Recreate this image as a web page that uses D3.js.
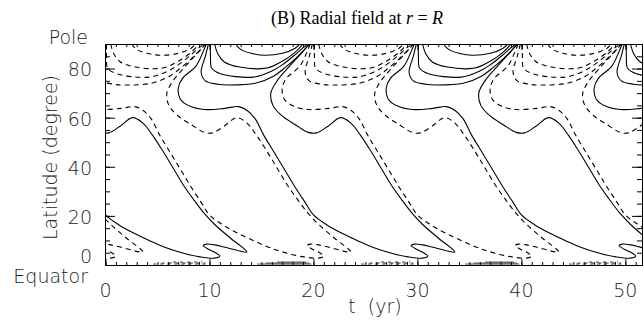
<!DOCTYPE html>
<html>
<head>
<meta charset="utf-8">
<script src="https://cdn.jsdelivr.net/npm/d3@7"></script>
<style>
  body { margin: 0; background: #fff; }
  svg { display: block; }
</style>
</head>
<body>
<div id="chart"></div>
<script>
// half cycles: start year and sign of the field (+1 drawn solid, -1 dashed)
const cycleStart = [-20, -10, 0, 10, 20, 30, 40, 50];
const cycleSign = [-1, 1, -1, 1, -1, 1, -1, 1];

// polar loops of one half cycle, [years after start, latitude]
const poleLoop1 = [[2.5, 90], [3.0, 87.8], [4.0, 86.2], [5.3, 85.4], [7.0, 86.2], [8.2, 88.2], [8.7, 90]];
const poleLoop2 = [[0.5, 90], [0.8, 86], [1.4, 82.8], [2.9, 80.6], [5.5, 80.2], [7.0, 83], [8.2, 86.5], [9.0, 90]];
const poleLoop3 = [[0.1, 90], [0.1, 84], [0.2, 80.2], [1.0, 78], [4.2, 76.5], [6.0, 79], [7.0, 81.5], [8.2, 85.5], [9.0, 88.5], [9.5, 90]];
const poleLoop4 = [[-0.1, 90], [-0.4, 85], [-0.8, 78.5], [-0.4, 75], [0.8, 73.6], [1.8, 73.3], [4.4, 74], [6.2, 77], [7.3, 80.5], [8.5, 85], [9.3, 88.5], [9.7, 90]];

// long contour: pole -> mid-latitude plateau -> equator wedge -> back up to the next pole
const mainContour = [
  [-0.3, 90], [-0.6, 87], [-1.3, 81], [-2.6, 76], [-3.0, 72], [-2.8, 67.5], [-1.8, 64.5], [-0.5, 63.3],
  [1.5, 63.8], [2.8, 64.5], [3.6, 63], [4.4, 59.5], [5.2, 53], [6.2, 46], [7.2, 39], [8.2, 32],
  [9.2, 25.5], [10.0, 20.4], [11.3, 16.3], [12.7, 13], [14.3, 9.8], [15.9, 6.9], [17.5, 4.8],
  [19.1, 3.3], [20.5, 2.8], [21.0, 3.6], [20.6, 5], [19.9, 6.4], [19.4, 7.9], [19.7, 8.5],
  [20.5, 8.2], [21.7, 7], [23.6, 5.3], [22.0, 11], [20.5, 16.5], [19.5, 21], [18.5, 26.5],
  [17.5, 32.5], [16.5, 39.5], [15.5, 46.5], [14.5, 53], [13.6, 57.8], [12.6, 60], [11.4, 56.5],
  [10.3, 53.8], [9.5, 54], [8.3, 57], [6.9, 61], [6.1, 65], [5.9, 70], [6.5, 75], [7.7, 81],
  [8.9, 86.5], [9.6, 90]
];

// crowded contours hugging the equator: [from, to, latitude]
const equatorBand = [[4.6, 9.8, 0.4], [5.4, 9.6, 0.8], [6.5, 9.3, 1.2]];

const xTicks = [0, 10, 20, 30, 40, 50];
const yTicks = [0, 20, 40, 60, 80];

const width = 644;
const height = 329;

const svg = d3.select('#chart')
  .append('svg')
  .attr('width', width)
  .attr('height', height);

const x = d3.scaleLinear().domain([0, 51.6]).range([105.5, 642]);
const y = d3.scaleLinear().domain([0, 90]).range([265, 44]);

svg.append('clipPath')
  .attr('id', 'plotClip')
  .append('rect')
  .attr('x', x(0))
  .attr('y', y(90))
  .attr('width', x(51.6) - x(0))
  .attr('height', y(0) - y(90));

const line = d3.line()
  .x(d => x(d[0]))
  .y(d => y(d[1]))
  .curve(d3.curveCatmullRom.alpha(0.5));

const plot = svg.append('g').attr('clip-path', 'url(#plotClip)');

const templates = [poleLoop1, poleLoop2, poleLoop3, poleLoop4, mainContour];

cycleStart.forEach((t0, i) => {
  const solid = cycleSign[i] > 0;
  templates.forEach(pts => {
    plot.append('path')
      .attr('d', line(pts.map(p => [p[0] + t0, p[1]])))
      .attr('fill', 'none')
      .attr('stroke', '#000')
      .attr('stroke-width', 1.1)
      .attr('stroke-dasharray', solid ? null : '5,4');
  });
  equatorBand.forEach(b => {
    plot.append('path')
      .attr('d', line([[b[0] + t0, b[2]], [b[1] + t0, b[2]]]))
      .attr('fill', 'none')
      .attr('stroke', solid ? '#333' : '#000')
      .attr('stroke-width', solid ? 0.9 : 0.8)
      .attr('stroke-dasharray', solid ? null : '3,4');
  });
});

// axes, ticks pointing into the plot
const xMinor = d3.range(0, 52, 1);
const yMinor = d3.range(0, 91, 5);

function frame(axis, tx, ty) {
  const g = svg.append('g').attr('transform', `translate(${tx},${ty})`).call(axis);
  g.selectAll('text').remove();
  g.selectAll('line, path').attr('stroke', '#000');
  return g;
}

frame(d3.axisBottom(x).tickValues(xMinor).tickSize(-3).tickSizeOuter(0), 0, 265);
frame(d3.axisBottom(x).tickValues(xTicks).tickSize(-6).tickSizeOuter(0), 0, 265);
frame(d3.axisTop(x).tickValues(xMinor).tickSize(-3).tickSizeOuter(0), 0, 44);
frame(d3.axisTop(x).tickValues(xTicks).tickSize(-6).tickSizeOuter(0), 0, 44);
frame(d3.axisLeft(y).tickValues(yMinor).tickSize(-5).tickSizeOuter(0), 105, 0);
frame(d3.axisLeft(y).tickValues(yTicks).tickSize(-10).tickSizeOuter(0), 105, 0);
frame(d3.axisRight(y).tickValues(yMinor).tickSize(-5).tickSizeOuter(0), 642, 0);
frame(d3.axisRight(y).tickValues(yTicks).tickSize(-10).tickSizeOuter(0), 642, 0);

const font = '"DejaVu Sans", sans-serif';
const ink = '#222';

function label(sel) {
  return sel.attr('font-family', font)
    .attr('font-size', 19)
    .attr('font-weight', 300)
    .attr('fill', ink);
}

svg.append('g')
  .selectAll('text')
  .data(xTicks)
  .join('text')
  .attr('x', d => x(d))
  .attr('y', 297)
  .attr('text-anchor', 'middle')
  .call(label)
  .text(d => d);

svg.append('g')
  .selectAll('text')
  .data(yTicks)
  .join('text')
  .attr('x', 92)
  .attr('y', d => d === 0 ? y(d) - 9 : y(d) + 1)
  .attr('dy', '0.36em')
  .attr('text-anchor', 'end')
  .call(label)
  .text(d => d);

svg.append('text')
  .attr('x', 88).attr('y', 44)
  .attr('text-anchor', 'end')
  .call(label)
  .text('Pole');

svg.append('text')
  .attr('x', 88).attr('y', 283)
  .attr('text-anchor', 'end')
  .call(label)
  .text('Equator');

svg.append('text')
  .attr('transform', `translate(57,${(y(0) + y(90)) / 2 + 3}) rotate(-90)`)
  .attr('text-anchor', 'middle')
  .call(label)
  .text('Latitude (degree)');

svg.append('text')
  .attr('x', 375).attr('y', 313)
  .attr('text-anchor', 'middle')
  .call(label)
  .style('white-space', 'pre')
  .text('t  (yr)');

const title = svg.append('text')
  .attr('x', 357).attr('y', 24)
  .attr('text-anchor', 'middle')
  .attr('font-family', '"Liberation Serif", serif')
  .attr('font-size', 18)
  .attr('fill', '#000');
title.append('tspan').text('(B) Radial field at ');
title.append('tspan').attr('font-style', 'italic').text('r');
title.append('tspan').text(' = ');
title.append('tspan').attr('font-style', 'italic').text('R');
</script>
</body>
</html>
